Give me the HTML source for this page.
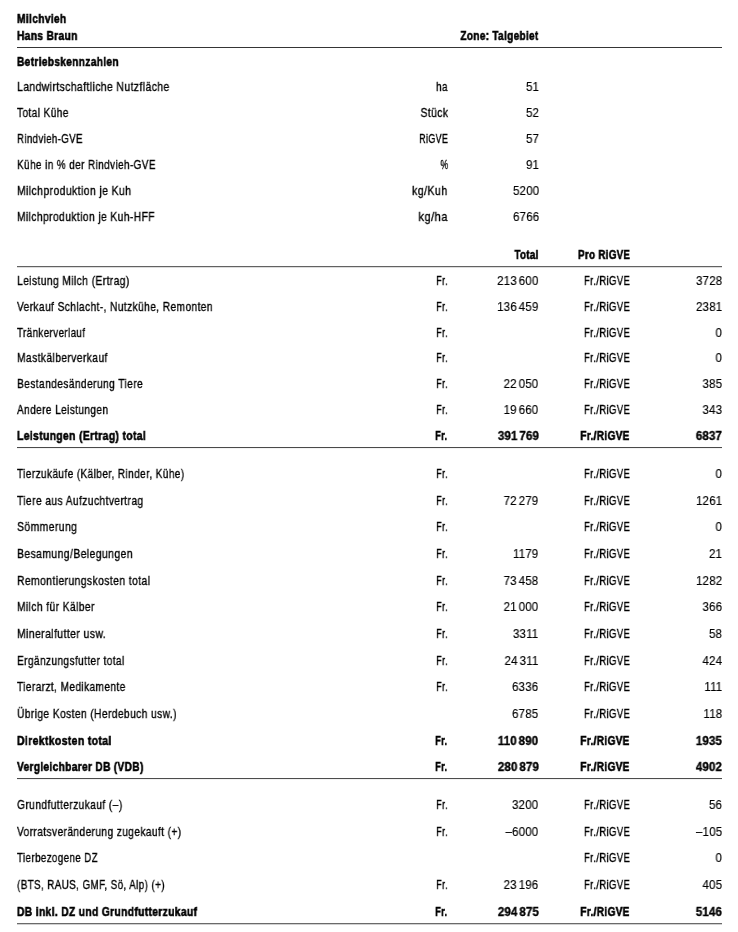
<!DOCTYPE html><html><head><meta charset="utf-8"><title>Milchvieh</title><style>
html,body{margin:0;padding:0;background:#fff;}
body{width:738px;height:932px;position:relative;overflow:hidden;font-family:"Liberation Sans",Arial,sans-serif;font-size:12.4px;line-height:20px;color:#000;}
.t{position:absolute;white-space:pre;will-change:transform;}
.l{transform-origin:0 50%;}.r{transform-origin:100% 50%;text-align:right;}
.s{letter-spacing:0.5px;-webkit-text-stroke:0.35px #000;}.b{font-weight:bold;}.b.s{letter-spacing:0.4px;-webkit-text-stroke:0.55px #000;}.n{letter-spacing:0.2px;-webkit-text-stroke:0.15px #000;}.b.n{letter-spacing:0.1px;-webkit-text-stroke:0.35px #000;}.ts{letter-spacing:-0.5px;}
.hr{position:absolute;left:17px;width:705px;height:1px;background:#555;}
</style></head><body>
<div class="t l b s" style="top:9px;left:17.20px;transform:scaleX(0.825);">Milchvieh</div>
<div class="t l b s" style="top:26px;left:17.20px;transform:scaleX(0.826);">Hans Braun</div>
<div class="t r b s" style="top:26px;right:199.00px;transform:scaleX(0.810);">Zone: Talgebiet</div>
<div class="t l b s" style="top:52px;left:17.20px;transform:scaleX(0.820);">Betriebskennzahlen</div>
<div class="t l s" style="top:77px;left:17.20px;transform:scaleX(0.837);">Landwirtschaftliche Nutzfläche</div>
<div class="t r s" style="top:77px;right:290.40px;transform:scaleX(0.793);">ha</div>
<div class="t r n" style="top:77px;right:198.90px;transform:scaleX(0.930);">51</div>
<div class="t l s" style="top:103px;left:17.20px;transform:scaleX(0.814);">Total Kühe</div>
<div class="t r s" style="top:103px;right:289.68px;transform:scaleX(0.834);">Stück</div>
<div class="t r n" style="top:103px;right:198.90px;transform:scaleX(0.930);">52</div>
<div class="t l s" style="top:129px;left:17.20px;transform:scaleX(0.779);">Rindvieh-GVE</div>
<div class="t r s" style="top:129px;right:290.04px;transform:scaleX(0.725);">RiGVE</div>
<div class="t r n" style="top:129px;right:198.90px;transform:scaleX(0.930);">57</div>
<div class="t l s" style="top:155px;left:17.20px;transform:scaleX(0.804);">Kühe in % der Rindvieh-GVE</div>
<div class="t r s" style="top:155px;right:289.68px;transform:scaleX(0.700);">%</div>
<div class="t r n" style="top:155px;right:198.90px;transform:scaleX(0.930);">91</div>
<div class="t l s" style="top:181px;left:17.20px;transform:scaleX(0.839);">Milchproduktion je Kuh</div>
<div class="t r s" style="top:181px;right:290.40px;transform:scaleX(0.854);">kg/Kuh</div>
<div class="t r n" style="top:181px;right:198.90px;transform:scaleX(0.930);">5200</div>
<div class="t l s" style="top:207px;left:17.20px;transform:scaleX(0.828);">Milchproduktion je Kuh-HFF</div>
<div class="t r s" style="top:207px;right:290.40px;transform:scaleX(0.894);">kg/ha</div>
<div class="t r n" style="top:207px;right:198.90px;transform:scaleX(0.930);">6766</div>
<div class="t r b s" style="top:245px;right:199.50px;transform:scaleX(0.790);">Total</div>
<div class="t r b s" style="top:245px;right:107.80px;transform:scaleX(0.788);">Pro RiGVE</div>
<div class="t l s" style="top:271px;left:17.20px;transform:scaleX(0.828);">Leistung Milch (Ertrag)</div>
<div class="t r s" style="top:271px;right:290.40px;transform:scaleX(0.740);">Fr.</div>
<div class="t r n" style="top:271px;right:199.50px;transform:scaleX(0.930);">213<span class="ts"> </span>600</div>
<div class="t r s" style="top:271px;right:107.80px;transform:scaleX(0.768);">Fr./RiGVE</div>
<div class="t r n" style="top:271px;right:15.72px;transform:scaleX(0.930);">3728</div>
<div class="t l s" style="top:297px;left:17.20px;transform:scaleX(0.820);">Verkauf Schlacht-, Nutzkühe, Remonten</div>
<div class="t r s" style="top:297px;right:290.40px;transform:scaleX(0.740);">Fr.</div>
<div class="t r n" style="top:297px;right:199.50px;transform:scaleX(0.930);">136<span class="ts"> </span>459</div>
<div class="t r s" style="top:297px;right:107.80px;transform:scaleX(0.768);">Fr./RiGVE</div>
<div class="t r n" style="top:297px;right:15.72px;transform:scaleX(0.930);">2381</div>
<div class="t l s" style="top:323px;left:17.20px;transform:scaleX(0.792);">Tränkerverlauf</div>
<div class="t r s" style="top:323px;right:290.40px;transform:scaleX(0.740);">Fr.</div>
<div class="t r s" style="top:323px;right:107.80px;transform:scaleX(0.768);">Fr./RiGVE</div>
<div class="t r n" style="top:323px;right:16.20px;transform:scaleX(0.930);">0</div>
<div class="t l s" style="top:348px;left:17.20px;transform:scaleX(0.827);">Mastkälberverkauf</div>
<div class="t r s" style="top:348px;right:290.40px;transform:scaleX(0.740);">Fr.</div>
<div class="t r s" style="top:348px;right:107.80px;transform:scaleX(0.768);">Fr./RiGVE</div>
<div class="t r n" style="top:348px;right:16.20px;transform:scaleX(0.930);">0</div>
<div class="t l s" style="top:374px;left:17.20px;transform:scaleX(0.822);">Bestandesänderung Tiere</div>
<div class="t r s" style="top:374px;right:290.40px;transform:scaleX(0.740);">Fr.</div>
<div class="t r n" style="top:374px;right:199.50px;transform:scaleX(0.930);">22<span class="ts"> </span>050</div>
<div class="t r s" style="top:374px;right:107.80px;transform:scaleX(0.768);">Fr./RiGVE</div>
<div class="t r n" style="top:374px;right:16.20px;transform:scaleX(0.930);">385</div>
<div class="t l s" style="top:400px;left:17.20px;transform:scaleX(0.812);">Andere Leistungen</div>
<div class="t r s" style="top:400px;right:290.40px;transform:scaleX(0.740);">Fr.</div>
<div class="t r n" style="top:400px;right:199.50px;transform:scaleX(0.930);">19<span class="ts"> </span>660</div>
<div class="t r s" style="top:400px;right:107.80px;transform:scaleX(0.768);">Fr./RiGVE</div>
<div class="t r n" style="top:400px;right:16.20px;transform:scaleX(0.930);">343</div>
<div class="t l b s" style="top:426px;left:17.20px;transform:scaleX(0.839);">Leistungen (Ertrag) total</div>
<div class="t r b s" style="top:426px;right:290.40px;transform:scaleX(0.739);">Fr.</div>
<div class="t r b n" style="top:426px;right:199.50px;transform:scaleX(0.935);">391<span class="ts"> </span>769</div>
<div class="t r b s" style="top:426px;right:107.80px;transform:scaleX(0.814);">Fr./RiGVE</div>
<div class="t r b n" style="top:426px;right:16.20px;transform:scaleX(0.935);">6837</div>
<div class="t l s" style="top:464px;left:17.20px;transform:scaleX(0.811);">Tierzukäufe (Kälber, Rinder, Kühe)</div>
<div class="t r s" style="top:464px;right:290.40px;transform:scaleX(0.740);">Fr.</div>
<div class="t r s" style="top:464px;right:107.80px;transform:scaleX(0.768);">Fr./RiGVE</div>
<div class="t r n" style="top:464px;right:16.20px;transform:scaleX(0.930);">0</div>
<div class="t l s" style="top:491px;left:17.20px;transform:scaleX(0.826);">Tiere aus Aufzuchtvertrag</div>
<div class="t r s" style="top:491px;right:290.40px;transform:scaleX(0.740);">Fr.</div>
<div class="t r n" style="top:491px;right:199.50px;transform:scaleX(0.930);">72<span class="ts"> </span>279</div>
<div class="t r s" style="top:491px;right:107.80px;transform:scaleX(0.768);">Fr./RiGVE</div>
<div class="t r n" style="top:491px;right:15.72px;transform:scaleX(0.930);">1261</div>
<div class="t l s" style="top:517px;left:17.20px;transform:scaleX(0.838);">Sömmerung</div>
<div class="t r s" style="top:517px;right:290.40px;transform:scaleX(0.740);">Fr.</div>
<div class="t r s" style="top:517px;right:107.80px;transform:scaleX(0.768);">Fr./RiGVE</div>
<div class="t r n" style="top:517px;right:16.20px;transform:scaleX(0.930);">0</div>
<div class="t l s" style="top:544px;left:17.20px;transform:scaleX(0.838);">Besamung/Belegungen</div>
<div class="t r s" style="top:544px;right:290.40px;transform:scaleX(0.740);">Fr.</div>
<div class="t r n" style="top:544px;right:199.50px;transform:scaleX(0.930);">1179</div>
<div class="t r s" style="top:544px;right:107.80px;transform:scaleX(0.768);">Fr./RiGVE</div>
<div class="t r n" style="top:544px;right:16.20px;transform:scaleX(0.930);">21</div>
<div class="t l s" style="top:571px;left:17.20px;transform:scaleX(0.834);">Remontierungskosten total</div>
<div class="t r s" style="top:571px;right:290.40px;transform:scaleX(0.740);">Fr.</div>
<div class="t r n" style="top:571px;right:199.50px;transform:scaleX(0.930);">73<span class="ts"> </span>458</div>
<div class="t r s" style="top:571px;right:107.80px;transform:scaleX(0.768);">Fr./RiGVE</div>
<div class="t r n" style="top:571px;right:15.72px;transform:scaleX(0.930);">1282</div>
<div class="t l s" style="top:597px;left:17.20px;transform:scaleX(0.827);">Milch für Kälber</div>
<div class="t r s" style="top:597px;right:290.40px;transform:scaleX(0.740);">Fr.</div>
<div class="t r n" style="top:597px;right:199.50px;transform:scaleX(0.930);">21<span class="ts"> </span>000</div>
<div class="t r s" style="top:597px;right:107.80px;transform:scaleX(0.768);">Fr./RiGVE</div>
<div class="t r n" style="top:597px;right:16.20px;transform:scaleX(0.930);">366</div>
<div class="t l s" style="top:624px;left:17.20px;transform:scaleX(0.839);">Mineralfutter usw.</div>
<div class="t r s" style="top:624px;right:290.40px;transform:scaleX(0.740);">Fr.</div>
<div class="t r n" style="top:624px;right:199.50px;transform:scaleX(0.930);">3311</div>
<div class="t r s" style="top:624px;right:107.80px;transform:scaleX(0.768);">Fr./RiGVE</div>
<div class="t r n" style="top:624px;right:16.20px;transform:scaleX(0.930);">58</div>
<div class="t l s" style="top:651px;left:17.20px;transform:scaleX(0.814);">Ergänzungsfutter total</div>
<div class="t r s" style="top:651px;right:290.40px;transform:scaleX(0.740);">Fr.</div>
<div class="t r n" style="top:651px;right:199.50px;transform:scaleX(0.930);">24<span class="ts"> </span>311</div>
<div class="t r s" style="top:651px;right:107.80px;transform:scaleX(0.768);">Fr./RiGVE</div>
<div class="t r n" style="top:651px;right:16.20px;transform:scaleX(0.930);">424</div>
<div class="t l s" style="top:677px;left:17.20px;transform:scaleX(0.815);">Tierarzt, Medikamente</div>
<div class="t r s" style="top:677px;right:290.40px;transform:scaleX(0.740);">Fr.</div>
<div class="t r n" style="top:677px;right:199.50px;transform:scaleX(0.930);">6336</div>
<div class="t r s" style="top:677px;right:107.80px;transform:scaleX(0.768);">Fr./RiGVE</div>
<div class="t r n" style="top:677px;right:15.72px;transform:scaleX(0.930);">111</div>
<div class="t l s" style="top:704px;left:17.20px;transform:scaleX(0.824);">Übrige Kosten (Herdebuch usw.)</div>
<div class="t r n" style="top:704px;right:199.50px;transform:scaleX(0.930);">6785</div>
<div class="t r s" style="top:704px;right:107.80px;transform:scaleX(0.768);">Fr./RiGVE</div>
<div class="t r n" style="top:704px;right:15.72px;transform:scaleX(0.930);">118</div>
<div class="t l b s" style="top:731px;left:17.20px;transform:scaleX(0.846);">Direktkosten total</div>
<div class="t r b s" style="top:731px;right:290.40px;transform:scaleX(0.739);">Fr.</div>
<div class="t r b n" style="top:731px;right:199.50px;transform:scaleX(0.935);">110<span class="ts"> </span>890</div>
<div class="t r b s" style="top:731px;right:107.80px;transform:scaleX(0.814);">Fr./RiGVE</div>
<div class="t r b n" style="top:731px;right:16.20px;transform:scaleX(0.935);">1935</div>
<div class="t l b s" style="top:757px;left:17.20px;transform:scaleX(0.820);">Vergleichbarer DB (VDB)</div>
<div class="t r b s" style="top:757px;right:290.40px;transform:scaleX(0.739);">Fr.</div>
<div class="t r b n" style="top:757px;right:199.50px;transform:scaleX(0.935);">280<span class="ts"> </span>879</div>
<div class="t r b s" style="top:757px;right:107.80px;transform:scaleX(0.814);">Fr./RiGVE</div>
<div class="t r b n" style="top:757px;right:16.20px;transform:scaleX(0.935);">4902</div>
<div class="t l s" style="top:795px;left:17.20px;transform:scaleX(0.823);">Grundfutterzukauf (–)</div>
<div class="t r s" style="top:795px;right:290.40px;transform:scaleX(0.740);">Fr.</div>
<div class="t r n" style="top:795px;right:199.50px;transform:scaleX(0.930);">3200</div>
<div class="t r s" style="top:795px;right:107.80px;transform:scaleX(0.768);">Fr./RiGVE</div>
<div class="t r n" style="top:795px;right:16.20px;transform:scaleX(0.930);">56</div>
<div class="t l s" style="top:822px;left:17.20px;transform:scaleX(0.819);">Vorratsveränderung zugekauft (+)</div>
<div class="t r s" style="top:822px;right:290.40px;transform:scaleX(0.740);">Fr.</div>
<div class="t r n" style="top:822px;right:199.50px;transform:scaleX(0.930);">–6000</div>
<div class="t r s" style="top:822px;right:107.80px;transform:scaleX(0.768);">Fr./RiGVE</div>
<div class="t r n" style="top:822px;right:15.72px;transform:scaleX(0.930);">–105</div>
<div class="t l s" style="top:848px;left:17.20px;transform:scaleX(0.788);">Tierbezogene DZ</div>
<div class="t r s" style="top:848px;right:107.80px;transform:scaleX(0.768);">Fr./RiGVE</div>
<div class="t r n" style="top:848px;right:16.20px;transform:scaleX(0.930);">0</div>
<div class="t l s" style="top:875px;left:17.20px;transform:scaleX(0.794);">(BTS, RAUS, GMF, Sö, Alp) (+)</div>
<div class="t r s" style="top:875px;right:290.40px;transform:scaleX(0.740);">Fr.</div>
<div class="t r n" style="top:875px;right:199.50px;transform:scaleX(0.930);">23<span class="ts"> </span>196</div>
<div class="t r s" style="top:875px;right:107.80px;transform:scaleX(0.768);">Fr./RiGVE</div>
<div class="t r n" style="top:875px;right:16.20px;transform:scaleX(0.930);">405</div>
<div class="t l b s" style="top:902px;left:17.20px;transform:scaleX(0.831);">DB inkl. DZ und Grundfutterzukauf</div>
<div class="t r b s" style="top:902px;right:290.40px;transform:scaleX(0.739);">Fr.</div>
<div class="t r b n" style="top:902px;right:199.50px;transform:scaleX(0.935);">294<span class="ts"> </span>875</div>
<div class="t r b s" style="top:902px;right:107.80px;transform:scaleX(0.814);">Fr./RiGVE</div>
<div class="t r b n" style="top:902px;right:16.20px;transform:scaleX(0.935);">5146</div>
<div class="hr" style="top:47px;background:#353535;"></div>
<div class="hr" style="top:266px;background:#626262;box-shadow:0 1px 0 #dcdcdc;"></div>
<div class="hr" style="top:447px;background:#4a4a4a;box-shadow:0 1px 0 #f3f3f3;"></div>
<div class="hr" style="top:778px;background:#4c4c4c;box-shadow:0 1px 0 #f2f2f2;"></div>
<div class="hr" style="top:923px;background:#6a6a6a;box-shadow:0 1px 0 #d0d0d0;"></div>
</body></html>
